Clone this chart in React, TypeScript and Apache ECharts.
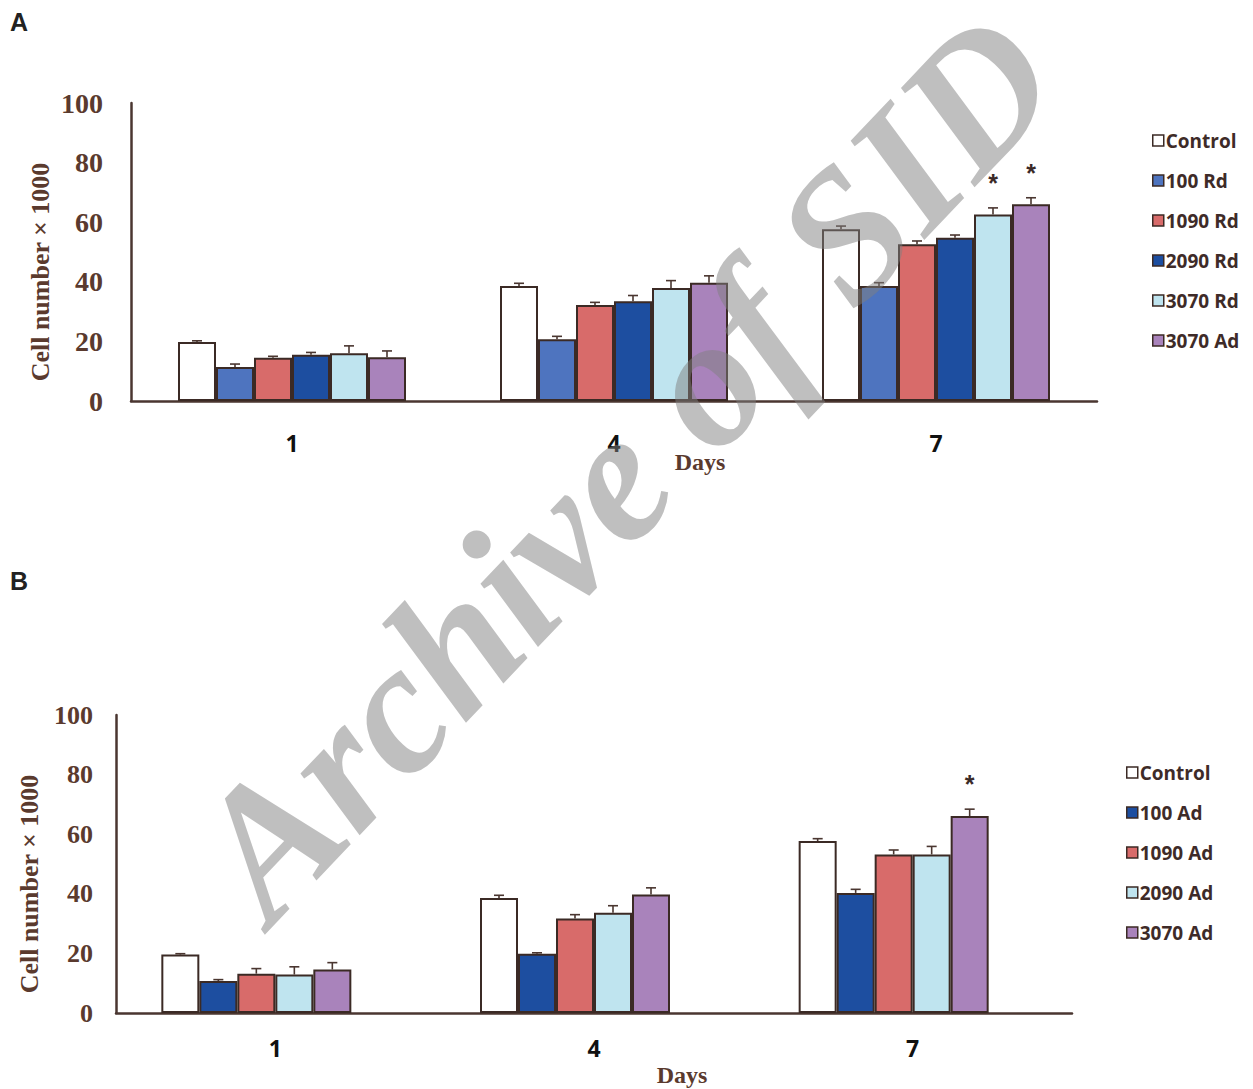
import React, { useEffect, useRef } from "react";
import * as echarts from "echarts";

// ---------- data ----------
const days = ["1", "4", "7"];
const yTicks = [0, 20, 40, 60, 80, 100];

const namesA = ["Control", "100 Rd", "1090 Rd", "2090 Rd", "3070 Rd", "3070 Ad"];
const valuesA = [
  [19.8, 38.6, 57.6],
  [11.4, 20.7, 38.6],
  [14.5, 32.2, 52.6],
  [15.5, 33.5, 54.8],
  [16.0, 37.9, 62.6],
  [14.7, 39.7, 66.0],
];
const errorsA = [
  [0.4, 0.9, 1.1],
  [1.0, 1.0, 1.1],
  [0.5, 0.9, 1.1],
  [0.8, 1.9, 0.9],
  [2.5, 2.5, 2.2],
  [2.1, 2.3, 2.2],
];
// [seriesIndex, dayIndex] of significant bars
const sigA = [
  [4, 2],
  [5, 2],
];

const namesB = ["Control", "100 Ad", "1090 Ad", "2090 Ad", "3070 Ad"];
const valuesB = [
  [19.6, 38.6, 57.7],
  [10.7, 19.9, 40.3],
  [13.2, 31.7, 53.2],
  [12.9, 33.6, 53.2],
  [14.6, 39.8, 66.1],
];
const errorsB = [
  [0.3, 0.9, 0.8],
  [0.5, 0.3, 1.2],
  [1.7, 1.3, 1.5],
  [2.6, 2.4, 2.7],
  [2.3, 2.2, 2.3],
];
const sigB = [[4, 2]];

// ---------- styles ----------
const colorsA = ["#ffffff", "#4e74bf", "#d86b6a", "#1d4ea0", "#bfe4ef", "#a983bb"];
const colorsB = ["#ffffff", "#1d4ea0", "#d86b6a", "#bfe4ef", "#a983bb"];
const BORDER = "#3b2a25";
const AXIS = "#4a3630";
const BROWN = "#5a3a2e";
const BAR_W = 38;
const SLOTS = 6;

function buildErrData(values: number[][], errors: number[][], sig: number[][]) {
  const out: any[] = [];
  values.forEach((row, s) => {
    row.forEach((v, d) => {
      const isSig = sig.some((p) => p[0] === s && p[1] === d) ? 1 : 0;
      out.push([d, s, v, errors[s][d], isSig]);
    });
  });
  return out;
}

function errorRenderer(params: any, api: any) {
  const d = api.value(0);
  const s = api.value(1);
  const v = api.value(2);
  const e = api.value(3);
  const sig = api.value(4);
  const base = api.coord([d, v]);
  const top = api.coord([d, v + e]);
  const x = base[0] + (s - (SLOTS - 1) / 2) * BAR_W;
  const lineStyle = { stroke: AXIS, lineWidth: 1.6 };
  const children: any[] = [
    { type: "line", shape: { x1: x, y1: base[1], x2: x, y2: top[1] }, style: lineStyle },
    { type: "line", shape: { x1: x - 5, y1: top[1], x2: x + 5, y2: top[1] }, style: lineStyle },
  ];
  if (sig) {
    children.push({
      type: "text",
      x: x,
      y: top[1] - 25,
      style: {
        text: "*",
        fill: "#3a2a28",
        font: 'bold 25px "Liberation Sans"',
        align: "center",
        verticalAlign: "middle",
      },
    });
  }
  return { type: "group", children };
}

export default function App() {
  const ref = useRef<HTMLDivElement>(null);

  useEffect(() => {
    if (!ref.current) return;
    const chart = echarts.init(ref.current, null, { renderer: "svg" });

    const grids = [
      { left: 131, top: 103, width: 966, height: 298 },
      { left: 116, top: 715, width: 956, height: 298 },
    ];

    const xAxis = [0, 1].map((i) => ({
      type: "category",
      gridIndex: i,
      data: days,
      axisLine: { lineStyle: { color: AXIS, width: 2.5 } },
      axisTick: { show: false },
      axisLabel: {
        margin: i === 0 ? 30 : 23,
        color: "#111",
        fontFamily: "Open Sans",
        fontWeight: "bold",
        fontSize: 23,
      },
    }));

    const yAxis = [0, 1].map((i) => ({
      type: "value",
      gridIndex: i,
      min: yTicks[0],
      max: yTicks[yTicks.length - 1],
      interval: yTicks[1] - yTicks[0],
      splitLine: { show: false },
      axisTick: { show: false },
      axisLine: { show: true, lineStyle: { color: AXIS, width: 2.5 } },
      axisLabel: {
        margin: i === 0 ? 28 : 23,
        color: BROWN,
        fontFamily: "Liberation Serif",
        fontWeight: "bold",
        fontSize: i === 0 ? 28 : 26,
      },
    }));

    const barSeries = (names: string[], values: number[][], colors: string[], idx: number) =>
      names.map((n, s) => ({
        type: "bar",
        name: n,
        xAxisIndex: idx,
        yAxisIndex: idx,
        data: values[s],
        barWidth: BAR_W,
        barGap: "0%",
        itemStyle: { color: colors[s], borderColor: BORDER, borderWidth: 2 },
      }));

    const series: any[] = [
      ...barSeries(namesA, valuesA, colorsA, 0),
      ...barSeries(namesB, valuesB, colorsB, 1),
      // empty sixth slot of panel B (Excel layout keeps a sixth column)
      { type: "bar", xAxisIndex: 1, yAxisIndex: 1, data: [], barWidth: BAR_W, barGap: "0%" },
      {
        type: "custom",
        xAxisIndex: 0,
        yAxisIndex: 0,
        renderItem: errorRenderer,
        data: buildErrData(valuesA, errorsA, sigA),
        z: 5,
      },
      {
        type: "custom",
        xAxisIndex: 1,
        yAxisIndex: 1,
        renderItem: errorRenderer,
        data: buildErrData(valuesB, errorsB, sigB),
        z: 5,
      },
    ];

    const legendCommon = {
      orient: "vertical",
      icon: "rect",
      padding: 0,
      itemWidth: 11,
      itemHeight: 11,
      itemGap: 21,
      selectedMode: false,
      itemStyle: { borderColor: BORDER, borderWidth: 1.5 },
      textStyle: {
        color: "#3e2b28",
        fontFamily: "Open Sans",
        fontWeight: "bold",
        fontSize: 19,
        lineHeight: 17,
        padding: [0, 0, 0, -3],
      },
    };

    const option: any = {
      animation: false,
      backgroundColor: "#ffffff",
      grid: grids,
      xAxis,
      yAxis,
      legend: [
        { ...legendCommon, data: namesA, left: 1152, top: 131 },
        { ...legendCommon, data: namesB, left: 1126, top: 763 },
      ],
      series,
      graphic: [
        {
          type: "text",
          x: 10,
          y: 22,
          style: { text: "A", font: 'bold 25px "Liberation Sans"', fill: "#222", verticalAlign: "middle" },
        },
        {
          type: "text",
          x: 10,
          y: 581,
          style: { text: "B", font: 'bold 25px "Liberation Sans"', fill: "#222", verticalAlign: "middle" },
        },
        {
          type: "text",
          x: 40,
          y: 272,
          rotation: Math.PI / 2,
          style: {
            text: "Cell number × 1000",
            font: 'bold 26px "Liberation Serif"',
            fill: BROWN,
            align: "center",
            verticalAlign: "middle",
          },
        },
        {
          type: "text",
          x: 29,
          y: 884,
          rotation: Math.PI / 2,
          style: {
            text: "Cell number × 1000",
            font: 'bold 26px "Liberation Serif"',
            fill: BROWN,
            align: "center",
            verticalAlign: "middle",
          },
        },
        {
          type: "text",
          x: 700,
          y: 462,
          style: {
            text: "Days",
            font: 'bold 24px "Liberation Serif"',
            fill: BROWN,
            align: "center",
            verticalAlign: "middle",
          },
        },
        {
          type: "text",
          x: 682,
          y: 1075,
          style: {
            text: "Days",
            font: 'bold 24px "Liberation Serif"',
            fill: BROWN,
            align: "center",
            verticalAlign: "middle",
          },
        },
        {
          type: "text",
          x: 624,
          y: 465,
          z: 100,
          rotation: (46.5 * Math.PI) / 180,
          style: {
            text: "Archive of SID",
            font: 'italic bold 186px "Liberation Serif"',
            fill: "rgba(128,128,128,0.5)",
            align: "center",
            verticalAlign: "middle",
          },
        },
      ],
    };

    chart.setOption(option);
    return () => chart.dispose();
  }, []);

  return (
    <div
      ref={ref}
      style={{ position: "fixed", left: 0, top: 0, width: 1253, height: 1089, background: "#fff" }}
    />
  );
}
